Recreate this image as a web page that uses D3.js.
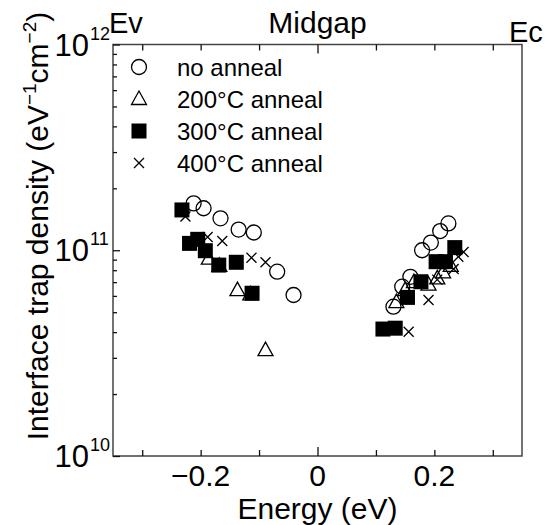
<!DOCTYPE html>
<html>
<head>
<meta charset="utf-8">
<script src="https://cdn.jsdelivr.net/npm/d3@7"></script>
<style>
  body { margin: 0; background: #fff; }
  text { font-family: "Liberation Sans", Arial, sans-serif; fill: #000; }
</style>
</head>
<body>
<div id="chart"></div>
<script>
var width = 553,
    height = 525;

// Energy from midgap (eV) and interface trap density (eV^-1 cm^-2)
var noAnnealE   = [-0.212, -0.195, -0.166, -0.135, -0.109, -0.069, -0.041, 0.130, 0.145, 0.159, 0.179, 0.194, 0.210, 0.224];
var noAnnealDit = [1.69e11, 1.60e11, 1.43e11, 1.26e11, 1.22e11, 7.87e10, 6.06e10, 5.32e10, 6.65e10, 7.43e10, 1.00e11, 1.09e11, 1.24e11, 1.35e11];

var a200E   = [-0.186, -0.168, -0.137, -0.115, -0.089, 0.135, 0.150, 0.165, 0.190, 0.205, 0.215, 0.228];
var a200Dit = [9.1e10, 8.4e10, 6.4e10, 6.1e10, 3.27e10, 5.6e10, 6.4e10, 7.0e10, 6.8e10, 7.3e10, 7.8e10, 8.4e10];

var a300E   = [-0.232, -0.219, -0.205, -0.192, -0.169, -0.139, -0.112, 0.112, 0.133, 0.154, 0.177, 0.203, 0.219, 0.235];
var a300Dit = [1.57e11, 1.08e11, 1.13e11, 9.95e10, 8.47e10, 8.74e10, 6.18e10, 4.14e10, 4.18e10, 5.9e10, 7.03e10, 8.8e10, 8.8e10, 1.03e11];

var a400E   = [-0.226, -0.188, -0.163, -0.113, -0.089, 0.156, 0.190, 0.205, 0.233, 0.241, 0.250];
var a400Dit = [1.46e11, 1.16e11, 1.11e11, 9.2e10, 8.74e10, 4.02e10, 5.73e10, 7.2e10, 8.1e10, 9.3e10, 9.8e10];

var seriesNames = ["no anneal", "200\u00b0C anneal", "300\u00b0C anneal", "400\u00b0C anneal"];
var xTicks = [-0.3, -0.2, -0.1, 0, 0.1, 0.2, 0.3];
var xLabels = [-0.2, 0, 0.2];
var yDecades = [10, 11, 12];

var series = [
  { name: seriesNames[0], shape: "circle",   E: noAnnealE, D: noAnnealDit },
  { name: seriesNames[1], shape: "triangle", E: a200E,     D: a200Dit },
  { name: seriesNames[2], shape: "square",   E: a300E,     D: a300Dit },
  { name: seriesNames[3], shape: "cross",    E: a400E,     D: a400Dit }
];

var pLeft = 113, pRight = 522, pTop = 44.5, pBottom = 456;

var x = d3.scaleLinear().domain([-0.35, 0.35]).range([pLeft, pRight]);
var y = d3.scaleLog().domain([1e10, 1e12]).range([pBottom, pTop]);

var svg = d3.select("#chart").append("svg")
    .attr("width", width)
    .attr("height", height);

// marker drawing
function drawMarker(g, shape) {
  if (shape == "circle") {
    g.append("circle").attr("r", 7.5)
      .attr("fill", "none").attr("stroke", "#000").attr("stroke-width", 1.3);
  } else if (shape == "triangle") {
    g.append("path").attr("d", "M0,-8L7.5,5.5L-7.5,5.5Z")
      .attr("fill", "none").attr("stroke", "#000").attr("stroke-width", 1.3);
  } else if (shape == "square") {
    g.append("rect").attr("x", -7.5).attr("y", -7.5).attr("width", 15).attr("height", 15)
      .attr("fill", "#000");
  } else {
    g.append("path").attr("d", "M-5,-5L5,5M-5,5L5,-5")
      .attr("fill", "none").attr("stroke", "#000").attr("stroke-width", 1.3);
  }
}

// frame
svg.append("rect")
    .attr("x", pLeft).attr("y", pTop)
    .attr("width", pRight - pLeft).attr("height", pBottom - pTop)
    .attr("fill", "none").attr("stroke", "#444").attr("stroke-width", 1.5);

// bottom + top ticks
var xb = svg.append("g").attr("transform", "translate(0," + pBottom + ")")
    .call(d3.axisBottom(x).tickValues(xTicks).tickSize(-6).tickFormat(""));
var xt = svg.append("g").attr("transform", "translate(0," + pTop + ")")
    .call(d3.axisTop(x).tickValues(xTicks).tickSize(-6).tickFormat(""));
[xb, xt].forEach(function(g) {
  g.select(".domain").remove();
  g.selectAll(".tick line").attr("stroke", "#111").attr("stroke-width", 1.3);
});
xb.selectAll(".tick line").filter(function(d) { return d === 0; }).attr("y2", -9);
xt.selectAll(".tick line").filter(function(d) { return d === 0; }).attr("y2", 9);

svg.selectAll(".xlab")
    .data(xLabels)
  .enter().append("text")
    .attr("class", "xlab")
    .attr("x", function(d) { return x(d); })
    .attr("y", 486)
    .attr("text-anchor", "middle")
    .style("font-size", "30px")
    .text(function(d) { return d === 0 ? "0" : (d < 0 ? "\u2212" + Math.abs(d) : "" + d); });

// left ticks (log)
var yTicks = [];
yDecades.forEach(function(p) {
  for (var k = 1; k <= 9; k++) {
    var v = k * Math.pow(10, p);
    if (v <= 1e12) yTicks.push(v);
  }
});
var yl = svg.append("g").attr("transform", "translate(" + pLeft + ",0)")
    .call(d3.axisLeft(y).tickValues(yTicks).tickSize(-4).tickFormat(""));
yl.select(".domain").remove();
yl.selectAll(".tick line").attr("stroke", "#111").attr("stroke-width", 1.3)
  .filter(function(d) { return Math.abs(Math.log10(d) % 1) < 1e-9; })
  .attr("x2", 7);

svg.selectAll(".ylab")
    .data(yDecades)
  .enter().append("text")
    .attr("class", "ylab")
    .attr("x", 89)
    .attr("y", function(d) { return y(Math.pow(10, d)) + 11; })
    .attr("text-anchor", "end")
    .style("font-size", "31px")
    .text("10");
svg.selectAll(".ysup")
    .data(yDecades)
  .enter().append("text")
    .attr("class", "ysup")
    .attr("x", 90)
    .attr("y", function(d) { return y(Math.pow(10, d)) - 5; })
    .style("font-size", "18px")
    .text(function(d) { return d; });

// top labels
svg.append("text").attr("x", 109).attr("y", 33).style("font-size", "29px").text("Ev");
svg.append("text").attr("x", x(0)).attr("y", 33).attr("text-anchor", "middle").style("font-size", "30px").text("Midgap");
svg.append("text").attr("x", 509).attr("y", 42).style("font-size", "29px").text("Ec");

// axis titles
svg.append("text")
    .attr("x", x(0)).attr("y", 519)
    .attr("text-anchor", "middle")
    .style("font-size", "30px")
    .text("Energy (eV)");

var yt = svg.append("text")
    .attr("transform", "translate(48,226)rotate(-90)")
    .attr("text-anchor", "middle")
    .style("font-size", "30px");
yt.append("tspan").text("Interface trap density (eV");
yt.append("tspan").attr("dy", -12).style("font-size", "19px").text("\u22121");
yt.append("tspan").attr("dy", 12).text("cm");
yt.append("tspan").attr("dy", -12).style("font-size", "19px").text("\u22122");
yt.append("tspan").attr("dy", 12).text(")");

// data points
series.forEach(function(s) {
  s.E.forEach(function(e, i) {
    var g = svg.append("g").attr("transform", "translate(" + x(e) + "," + y(s.D[i]) + ")");
    drawMarker(g, s.shape);
  });
});

// legend
series.forEach(function(s, i) {
  var ly = 67 + i * 32;
  var g = svg.append("g").attr("transform", "translate(139," + ly + ")");
  drawMarker(g, s.shape);
  svg.append("text")
      .attr("x", 177).attr("y", ly + 9)
      .style("font-size", "24px")
      .text(s.name);
});
</script>
</body>
</html>
